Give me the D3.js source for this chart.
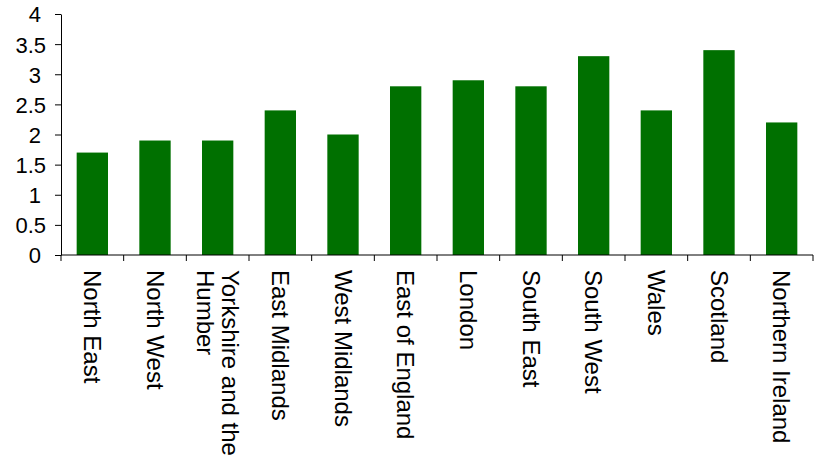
<!DOCTYPE html>
<html>
<head>
<meta charset="utf-8">
<script src="https://cdn.jsdelivr.net/npm/d3@7"></script>
<style>
  body { margin: 0; background: #fff; }
  text { font-family: "Liberation Sans", Arial, sans-serif; fill: #000; }
</style>
</head>
<body>
<div class="chart-container"></div>
<script>
const width = 814, height = 456;

// regions along the x axis
const regions = ["North East", "North West", "Yorkshire and the Humber", "East Midlands",
  "West Midlands", "East of England", "London", "South East", "South West",
  "Wales", "Scotland", "Northern Ireland"];
const values = [1.7, 1.9, 1.9, 2.4, 2.0, 2.8, 2.9, 2.8, 3.3, 2.4, 3.4, 2.2];
const yTicks = [0, 0.5, 1, 1.5, 2, 2.5, 3, 3.5, 4];
// long label split across two lines
const labelLines = {"Yorkshire and the Humber": ["Yorkshire and the", "Humber"]};

var svg = d3.select(".chart-container")
    .append("svg")
    .attr("width", width)
    .attr("height", height);

var x = d3.scaleBand()
    .domain(regions)
    .range([61, 813])
    .paddingInner(0.5)
    .paddingOuter(0.25);

var y = d3.scaleLinear()
    .domain([0, 4])
    .range([255, 14]);

// bars
svg.append("g").selectAll("rect")
    .data(values)
    .enter()
    .append("rect")
    .attr("x", (d, i) => x(regions[i]))
    .attr("y", d => y(d))
    .attr("width", x.bandwidth())
    .attr("height", d => y(0) - y(d))
    .attr("fill", "#007000");

// y axis
var yAxis = svg.append("g")
    .attr("transform", "translate(61,0)")
    .call(d3.axisLeft(y).tickValues(yTicks).tickSize(6).tickSizeOuter(0).tickFormat(d3.format("")));
yAxis.selectAll("text")
    .style("font-size", "22px")
    .attr("x", d => (d % 1 ? -15 : -20))
    .attr("dy", "0.36em");
yAxis.selectAll("path, line").attr("stroke", "#000");

// x axis, ticks sit on the band boundaries
var step = x.step();
var xAxis = svg.append("g")
    .attr("transform", "translate(0,255)");
xAxis.append("line")
    .attr("x1", 61).attr("x2", 813)
    .attr("stroke", "#000");
xAxis.selectAll(".tick")
    .data(d3.range(regions.length + 1))
    .enter()
    .append("line")
    .attr("x1", i => 61 + i * step)
    .attr("x2", i => 61 + i * step)
    .attr("y1", 0).attr("y2", 6)
    .attr("stroke", "#000");

// rotated labels
var labels = xAxis.selectAll(".lbl")
    .data(regions)
    .enter()
    .append("text")
    .attr("class", "lbl")
    .attr("transform", d => "translate(" + (x(d) + x.bandwidth() / 2) + ",15) rotate(90)")
    .style("font-size", "24px")
    .attr("text-anchor", "start");

labels.each(function(d) {
    var lines = labelLines[d] || [d];
    var t = d3.select(this);
    lines.forEach((l, k) => {
        t.append("tspan")
            .attr("x", 0)
            .attr("y", (k - (lines.length - 1) / 2) * 25)
            .attr("dy", "0.35em")
            .text(l);
    });
});
</script>
</body>
</html>
